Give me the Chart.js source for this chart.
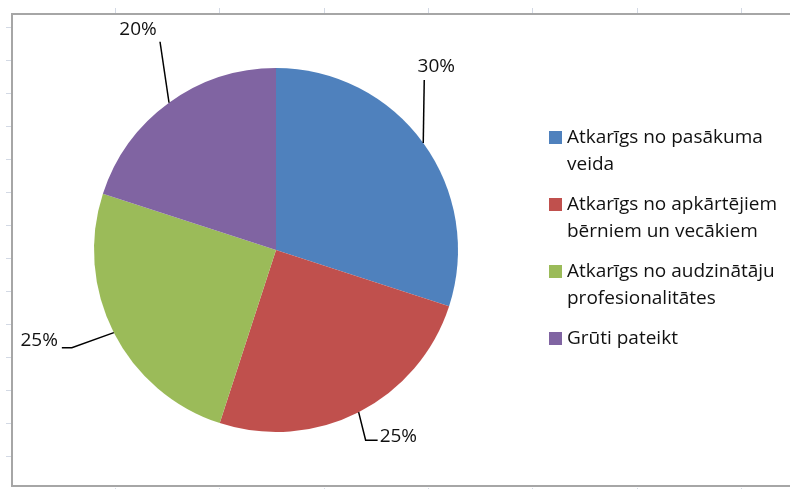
<!DOCTYPE html>
<html>
<head>
<meta charset="utf-8">
<script src="https://cdn.jsdelivr.net/npm/chart.js@4"></script>
<style>
  html, body { margin: 0; padding: 0; background: #fff; }
  #wrap { position: relative; width: 790px; height: 489px; }
  #legend {
    position: absolute; left: 549px; top: 123px; width: 240px;
    font-family: "Open Sans", Lato, sans-serif; font-size: 19px; color: #111;
  }
  .item { display: flex; align-items: flex-start; line-height: 27px; margin-bottom: 13px; }
  .box { width: 13px; height: 13px; margin-top: 8px; margin-right: 5px; flex: none; }
  .txt { width: 222px; }
</style>
</head>
<body>
<div id="wrap">
  <canvas id="myChart" width="790" height="489"></canvas>
  <div id="legend"></div>
</div>
<script>
// Datos del grafico
const categories = [
  "Atkarīgs no pasākuma veida",
  "Atkarīgs no apkārtējiem bērniem un vecākiem",
  "Atkarīgs no audzinātāju profesionalitātes",
  "Grūti pateikt"
];
const values = [30, 25, 25, 20];
const colors = ["#4F81BD", "#C0504D", "#9BBB59", "#8064A2"];

// Fondo tipo hoja de Excel + borde del grafico
const sheetPlugin = {
  id: "sheet",
  beforeDraw(chart) {
    const ctx = chart.ctx;
    ctx.save();
    ctx.fillStyle = "#fff";
    ctx.fillRect(0, 0, chart.width, chart.height);
    ctx.strokeStyle = "#d3d9e4";
    ctx.lineWidth = 1;
    ctx.beginPath();
    for (let gx = 115; gx < chart.width; gx += 104.3) {
      ctx.moveTo(Math.round(gx) + 0.5, 8); ctx.lineTo(Math.round(gx) + 0.5, 13);
      ctx.moveTo(Math.round(gx) + 0.5, 488); ctx.lineTo(Math.round(gx) + 0.5, 489);
    }
    for (let gy = 27; gy < chart.height - 5; gy += 33) {
      ctx.moveTo(6, gy + 0.5); ctx.lineTo(11, gy + 0.5);
    }
    ctx.stroke();
    ctx.strokeStyle = "#a6a6a6";
    ctx.lineWidth = 2;
    ctx.strokeRect(12, 14, chart.width + 10, 472);
    ctx.restore();
  }
};

// Etiquetas con lineas guia
const leaderPlugin = {
  id: "leaders",
  afterDatasetsDraw(chart, args, opts) {
    const ctx = chart.ctx;
    const total = values.reduce((a, b) => a + b, 0);
    chart.getDatasetMeta(0).data.forEach((arc, i) => {
      const p = arc.getProps(["x", "y", "startAngle", "endAngle", "outerRadius"], true);
      const mid = (p.startAngle + p.endAngle) / 2;
      const ex = p.x + Math.cos(mid) * p.outerRadius;
      const ey = p.y + Math.sin(mid) * p.outerRadius;
      const o = opts.layout[i];
      ctx.save();
      ctx.strokeStyle = "#000";
      ctx.lineWidth = 1.5;
      ctx.beginPath();
      ctx.moveTo(ex, ey);
      o.line.forEach(q => ctx.lineTo(ex + q[0], ey + q[1]));
      ctx.stroke();
      ctx.font = "19px 'Open Sans', Lato, sans-serif";
      ctx.fillStyle = "#111";
      ctx.textAlign = o.align;
      ctx.textBaseline = "middle";
      ctx.fillText(Math.round(values[i] / total * 100) + "%", ex + o.text[0], ey + o.text[1]);
      ctx.restore();
    });
  }
};

new Chart(document.getElementById("myChart"), {
  type: "pie",
  data: {
    labels: categories,
    datasets: [{
      data: values,
      backgroundColor: colors,
      borderWidth: 0
    }]
  },
  options: {
    responsive: false,
    animation: false,
    devicePixelRatio: 1,
    layout: { padding: { top: 68, bottom: 57, left: 94, right: 332 } },
    plugins: {
      legend: { display: false },
      tooltip: { enabled: false },
      leaders: {
        layout: [
          { line: [[1, -63]], text: [13, -76], align: "center" },
          { line: [[7, 28], [19, 28]], text: [21, 24], align: "left" },
          { line: [[-42, 15], [-52, 15]], text: [-56, 8], align: "right" },
          { line: [[-9, -61]], text: [-31, -73], align: "center" }
        ]
      }
    }
  },
  plugins: [sheetPlugin, leaderPlugin]
});

// Leyenda a la derecha
const legend = document.getElementById("legend");
categories.forEach((c, i) => {
  const item = document.createElement("div");
  item.className = "item";
  item.innerHTML = '<span class="box" style="background:' + colors[i] + '"></span><span class="txt">' + c + '</span>';
  legend.appendChild(item);
});
</script>
</body>
</html>
